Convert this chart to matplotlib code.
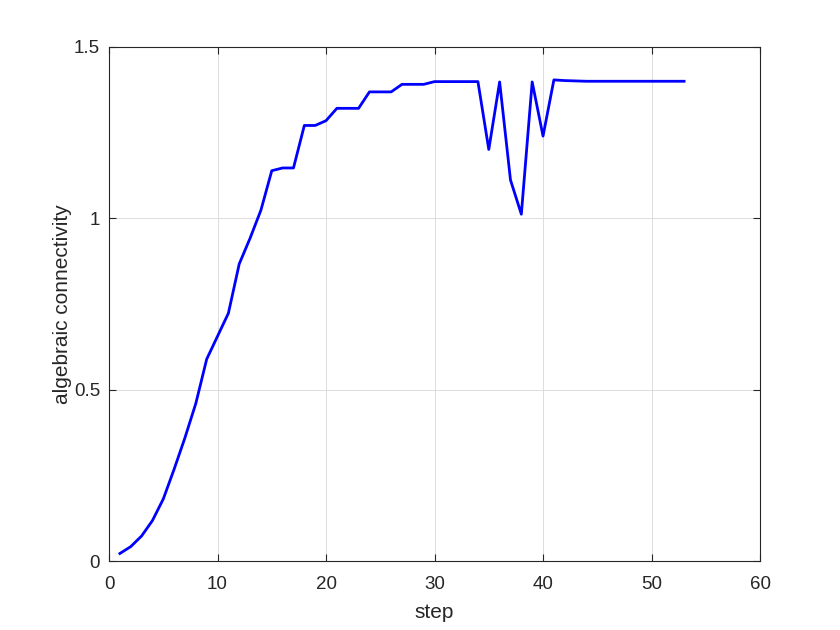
import matplotlib
matplotlib.use("Agg")
import matplotlib.pyplot as plt

steps = list(range(1, 54))
connectivity = [0.022, 0.042, 0.073, 0.118, 0.181, 0.268, 0.360, 0.460, 0.589, 0.656,
                0.723, 0.867, 0.942, 1.024, 1.139, 1.147, 1.147, 1.271, 1.271, 1.285,
                1.321, 1.321, 1.321, 1.369, 1.369, 1.369, 1.391, 1.391, 1.391, 1.399,
                1.399, 1.399, 1.399, 1.399, 1.201, 1.398, 1.112, 1.012, 1.398, 1.240,
                1.404, 1.402, 1.401, 1.400, 1.400, 1.400, 1.400, 1.400, 1.400, 1.400,
                1.400, 1.400, 1.400]
xticks = [0, 10, 20, 30, 40, 50, 60]
yticks = [0, 0.5, 1, 1.5]
ytick_labels = ["0", "0.5", "1", "1.5"]

plt.rcParams['font.family'] = ['Liberation Sans', 'DejaVu Sans']
fig = plt.figure(figsize=(8.4, 6.3), dpi=100)
ax = fig.add_axes([0.1298, 0.1095, 0.775, 0.8159])
ax.plot(steps, connectivity, color=(0, 0, 1), linewidth=2.0)
ax.set_xlim(0, 60)
ax.set_ylim(0, 1.5)
ax.set_xticks(xticks)
ax.set_yticks(yticks)
ax.set_yticklabels(ytick_labels)
ax.grid(True, color='#dcdcdc', linewidth=0.7)
ax.set_axisbelow(True)
dark = (0.15, 0.15, 0.15)
for s in ax.spines.values():
    s.set_color(dark)
    s.set_linewidth(0.8)
ax.tick_params(direction='in', length=5, colors=dark, labelsize=13.5, top=True, right=True,
               labeltop=False, labelright=False)
ax.tick_params(axis='x', pad=11)
ax.tick_params(axis='y', pad=6.5)
ax.set_xlabel("step", fontsize=15, color=dark, labelpad=7)
ax.set_ylabel("algebraic connectivity", fontsize=15, color=dark, labelpad=1)
fig.savefig("out.png", dpi=100)
